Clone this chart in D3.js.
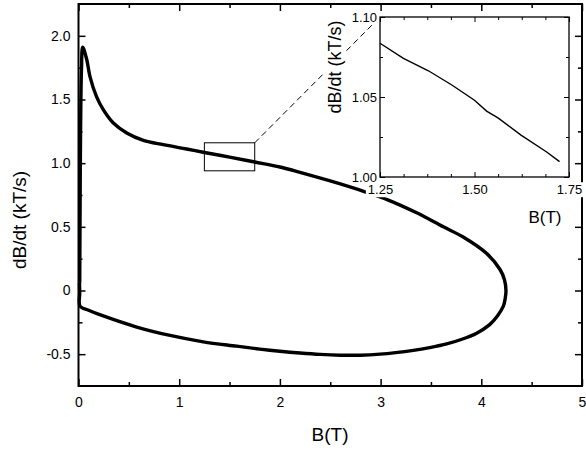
<!DOCTYPE html>
<html>
<head>
<meta charset="utf-8">
<script src="https://cdn.jsdelivr.net/npm/d3@7"></script>
<style>
  body { margin: 0; background: #fff; }
  svg { display: block; }
</style>
</head>
<body>
<div id="chart"></div>
<script>
// main loop: upper branch (origin -> peak -> tip), then lower branch back to origin
const upperB = [0.012, 0.015, 0.02, 0.03, 0.042, 0.08, 0.114, 0.18, 0.246, 0.346, 0.479, 0.644, 0.842, 1.074, 1.25, 1.5, 1.75, 2.0, 2.2, 2.5, 2.845, 3.077, 3.358, 3.623, 3.82, 4.054, 4.186, 4.23, 4.245]
const upperRate = [0.06, 0.5, 1.2, 1.75, 1.91, 1.82, 1.68, 1.52, 1.42, 1.315, 1.237, 1.179, 1.145, 1.111, 1.084, 1.048, 1.009, 0.97, 0.928, 0.86, 0.775, 0.71, 0.61, 0.5, 0.42, 0.29, 0.165, 0.085, 0.0]
const lowerB = [4.238, 4.219, 4.16, 4.08, 3.954, 3.8, 3.656, 3.5, 3.325, 3.15, 2.994, 2.8, 2.6, 2.4, 2.2, 2.0, 1.8, 1.571, 1.239, 0.909, 0.578, 0.246, 0.1, 0.015, 0.012, 0.01]
const lowerRate = [-0.06, -0.123, -0.2, -0.27, -0.335, -0.385, -0.42, -0.447, -0.47, -0.488, -0.5, -0.508, -0.508, -0.502, -0.491, -0.477, -0.46, -0.437, -0.403, -0.353, -0.287, -0.2, -0.155, -0.123, -0.02, 0.06]

// inset (zoom of 1.25 < B < 1.75)
const insetB = [1.25, 1.312, 1.378, 1.44, 1.5, 1.532, 1.563, 1.624, 1.69, 1.725]
const insetRate = [1.0836, 1.0742, 1.0664, 1.0575, 1.048, 1.0412, 1.0368, 1.026, 1.0158, 1.0096]

// ticks
const xTicks = [0, 1, 2, 3, 4, 5]
const xTickLabels = ['0', '1', '2', '3', '4', '5']
const xMinor = [0.5, 1.5, 2.5, 3.5, 4.5]
const yTicks = [-0.5, 0, 0.5, 1.0, 1.5, 2.0]
const yTickLabels = ['-0.5', '0', '0.5', '1.0', '1.5', '2.0']
const yMinor = [-0.25, 0.25, 0.75, 1.25, 1.75]
const insetXTicks = [1.25, 1.5, 1.75]
const insetXTickLabels = ['1.25', '1.50', '1.75']
const insetXMinor = [1.3125, 1.375, 1.4375, 1.5625, 1.625, 1.6875]
const insetYTicks = [1.0, 1.05, 1.1]
const insetYTickLabels = ['1.00', '1.05', '1.10']
const insetYMinor = [1.025, 1.075]

// zoom box drawn on the main plot
const boxB = [1.25, 1.75]
const boxRate = [0.94, 1.16]

const W = 586, H = 451
const font = "'Liberation Sans', Arial, Helvetica, sans-serif"

const svg = d3.select('#chart').append('svg')
  .attr('width', W).attr('height', H)
  .attr('viewBox', `0 0 ${W} ${H}`)

const x = d3.scaleLinear().domain([0, 5]).range([78.5, 582])
const y = d3.scaleLinear().domain([-0.75, 2.25]).range([386, 4])

const xi = d3.scaleLinear().domain([1.25, 1.75]).range([380, 569])
const yi = d3.scaleLinear().domain([1.0, 1.1]).range([177, 17])

// draws framed axes with inward ticks on all four sides
function frame(g, sx, sy, o) {
  const [x0, x1] = sx.range(), [y0, y1] = sy.range()
  const styleAxis = (sel) => {
    sel.select('.domain').remove()
    sel.selectAll('line').attr('stroke', '#000').attr('stroke-width', o.tickWidth)
    sel.selectAll('text').attr('font-family', font).attr('font-size', o.fontSize).attr('fill', '#000')
  }
  const add = (axis, tx, ty) => g.append('g').attr('transform', `translate(${tx},${ty})`).call(axis).call(styleAxis)

  add(d3.axisBottom(sx).tickValues(o.xTicks).tickSize(-o.major).tickSizeOuter(0).tickPadding(o.xPad).tickFormat((d, i) => o.xLabels[i]), 0, y0)
  add(d3.axisBottom(sx).tickValues(o.xMinor).tickSize(-o.minor).tickSizeOuter(0).tickFormat(''), 0, y0)
  add(d3.axisTop(sx).tickValues(o.xTicks).tickSize(-o.major).tickSizeOuter(0).tickFormat(''), 0, y1)
  add(d3.axisTop(sx).tickValues(o.xMinor).tickSize(-o.minor).tickSizeOuter(0).tickFormat(''), 0, y1)
  add(d3.axisLeft(sy).tickValues(o.yTicks).tickSize(-o.major).tickSizeOuter(0).tickPadding(o.yPad).tickFormat((d, i) => o.yLabels[i]), x0, 0)
  add(d3.axisLeft(sy).tickValues(o.yMinor).tickSize(-o.minor).tickSizeOuter(0).tickFormat(''), x0, 0)
  add(d3.axisRight(sy).tickValues(o.yTicks).tickSize(-o.major).tickSizeOuter(0).tickFormat(''), x1, 0)
  add(d3.axisRight(sy).tickValues(o.yMinor).tickSize(-o.minor).tickSizeOuter(0).tickFormat(''), x1, 0)

  g.append('rect')
    .attr('x', x0).attr('y', y1)
    .attr('width', x1 - x0).attr('height', y0 - y1)
    .attr('fill', 'none').attr('stroke', '#000').attr('stroke-width', o.frameWidth)
}

// ---- main plot ----
const main = svg.append('g')

const loop = upperB.map((b, i) => [b, upperRate[i]])
  .concat(lowerB.map((b, i) => [b, lowerRate[i]]))

main.append('path')
  .datum(loop)
  .attr('d', d3.line().x((d) => x(d[0])).y((d) => y(d[1])).curve(d3.curveCatmullRom.alpha(0.5)))
  .attr('fill', 'none')
  .attr('stroke', '#000')
  .attr('stroke-width', 3.4)
  .attr('stroke-linejoin', 'round')

frame(main, x, y, {
  xTicks, xLabels: xTickLabels, xMinor, yTicks, yLabels: yTickLabels, yMinor,
  major: 7, minor: 4, xPad: 11, yPad: 8, fontSize: 14, tickWidth: 1.5, frameWidth: 2
})

// zoom box + leader line
main.append('rect')
  .attr('x', x(boxB[0])).attr('y', y(boxRate[1]))
  .attr('width', x(boxB[1]) - x(boxB[0])).attr('height', y(boxRate[0]) - y(boxRate[1]))
  .attr('fill', 'none').attr('stroke', '#000').attr('stroke-width', 1)

main.append('line')
  .attr('x1', x(boxB[1])).attr('y1', y(boxRate[1]))
  .attr('x2', xi.range()[0]).attr('y2', yi.range()[1])
  .attr('stroke', '#000').attr('stroke-width', 1).attr('stroke-dasharray', '6,4')

// axis labels
main.append('text')
  .attr('x', 330).attr('y', 441)
  .attr('text-anchor', 'middle')
  .attr('font-family', font).attr('font-size', 19)
  .text('B(T)')

main.append('text')
  .attr('transform', 'translate(26,220) rotate(-90)')
  .attr('text-anchor', 'middle')
  .attr('font-family', font).attr('font-size', 19)
  .text('dB/dt (kT/s)')

// ---- inset ----
const inset = svg.append('g')

inset.append('rect')
  .attr('x', 380).attr('y', 17).attr('width', 189).attr('height', 160)
  .attr('fill', '#fff')

frame(inset, xi, yi, {
  xTicks: insetXTicks, xLabels: insetXTickLabels, xMinor: insetXMinor,
  yTicks: insetYTicks, yLabels: insetYTickLabels, yMinor: insetYMinor,
  major: 5, minor: 3, xPad: 8, yPad: 3, fontSize: 13, tickWidth: 1, frameWidth: 1.3
})

inset.append('path')
  .datum(insetB.map((b, i) => [b, insetRate[i]]))
  .attr('d', d3.line().x((d) => xi(d[0])).y((d) => yi(d[1])))
  .attr('fill', 'none')
  .attr('stroke', '#000')
  .attr('stroke-width', 1.4)

inset.append('text')
  .attr('x', 545).attr('y', 223)
  .attr('text-anchor', 'middle')
  .attr('font-family', font).attr('font-size', 17)
  .text('B(T)')

inset.append('text')
  .attr('transform', 'translate(341,67) rotate(-90)')
  .attr('text-anchor', 'middle')
  .attr('font-family', font).attr('font-size', 18)
  .text('dB/dt (kT/s)')

// white backing behind inset texts so they cut through the main curve / leader line
inset.selectAll('text').each(function () {
  const bb = this.getBBox()
  const t = this.getAttribute('transform')
  const parent = this.parentNode
  d3.select(parent).insert('rect', () => this)
    .attr('x', bb.x - 2).attr('y', bb.y)
    .attr('width', bb.width + 4).attr('height', bb.height)
    .attr('transform', t)
    .attr('fill', '#fff')
})
</script>
</body>
</html>
